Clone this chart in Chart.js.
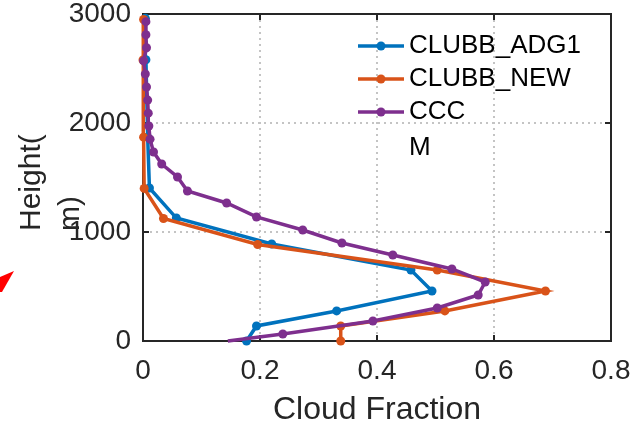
<!DOCTYPE html>
<html>
<head>
<meta charset="utf-8">
<script src="https://cdn.jsdelivr.net/npm/chart.js@4.4.0/dist/chart.umd.min.js"></script>
<style>
  html, body { margin: 0; padding: 0; background: #fff; }
</style>
</head>
<body>
<canvas id="cloudChart" width="636" height="426"></canvas>
<script>
const seriesNames = ['CLUBB_ADG1', 'CLUBB_NEW', 'CCCM'];
const seriesColors = ['#0072BD', '#D95319', '#7E2F8E'];

// CLUBB_ADG1
const adg1Height = [0, 138, 276, 459, 651, 890, 1128, 1404, 1870, 2580, 2960];
const adg1Frac = [0.177, 0.194, 0.331, 0.494, 0.458, 0.220, 0.057, 0.011, 0.008, 0.005, 0.004];

// CLUBB_NEW
const newHeight = [0, 138, 276, 459, 651, 885, 1124, 1400, 1870, 2578, 2950];
const newFrac = [0.338, 0.338, 0.516, 0.688, 0.503, 0.196, 0.035, 0.002, 0.001, 0.000, 0.001];

// CCCM (first point is where the line leaves the axes)
const cccmHeight = [0, 64, 183, 303, 422, 541, 661, 789, 899, 1018, 1138, 1266, 1376, 1505, 1624, 1734,
  1852, 1972, 2090, 2210, 2330, 2450, 2570, 2690, 2810, 2930];
const cccmFrac = [0.145, 0.239, 0.393, 0.503, 0.573, 0.585, 0.528, 0.427, 0.340, 0.273, 0.194, 0.143, 0.076,
  0.059, 0.032, 0.018, 0.012, 0.010, 0.009, 0.008, 0.006, 0.004, 0.001, 0.006, 0.005, 0.005];

const xTicks = [0, 0.2, 0.4, 0.6, 0.8];
const yTicks = [0, 1000, 2000, 3000];

const axisColor = '#262626';
const fontFamily = '"Liberation Sans", Arial, sans-serif';

function makeSet(i, fracs, heights, order) {
  return {
    label: seriesNames[i],
    data: fracs.map((v, k) => ({ x: v, y: heights[k] })),
    showLine: true,
    borderColor: seriesColors[i],
    backgroundColor: seriesColors[i],
    borderWidth: 3.5,
    pointRadius: i === 2 ? fracs.map((v, k) => (k === 0 ? 0 : 4.5)) : 4.5,
    pointHoverRadius: 4.5,
    pointBorderWidth: 0,
    order: order,
    clip: false
  };
}

function noPad(s) {
  s.paddingLeft = 0;
  s.paddingRight = 0;
  s.paddingTop = 0;
  s.paddingBottom = 0;
}

// box lines on top/right plus inward tick marks
const framePlugin = {
  id: 'frame',
  beforeDatasetsDraw(chart) {
    const { ctx, chartArea: a, scales } = chart;
    ctx.save();
    ctx.strokeStyle = axisColor;
    ctx.lineWidth = 2;
    ctx.beginPath();
    ctx.moveTo(a.left, a.top);
    ctx.lineTo(a.right, a.top);
    ctx.lineTo(a.right, a.bottom);
    ctx.stroke();
    const t = 6;
    ctx.beginPath();
    xTicks.forEach(v => {
      const px = Math.round(scales.x.getPixelForValue(v));
      ctx.moveTo(px, a.bottom); ctx.lineTo(px, a.bottom - t);
      ctx.moveTo(px, a.top); ctx.lineTo(px, a.top + t);
    });
    yTicks.forEach(v => {
      const py = Math.round(scales.y.getPixelForValue(v));
      ctx.moveTo(a.left, py); ctx.lineTo(a.left + t, py);
      ctx.moveTo(a.right, py); ctx.lineTo(a.right - t, py);
    });
    ctx.stroke();
    ctx.restore();
  },
  afterDraw(chart) {
    const { ctx } = chart;
    ctx.save();
    // y axis title, wrapped in two lines
    ctx.fillStyle = axisColor;
    ctx.font = '30px ' + fontFamily;
    ctx.textAlign = 'left';
    ctx.textBaseline = 'alphabetic';
    ctx.translate(0, 231);
    ctx.rotate(-Math.PI / 2);
    ctx.fillText('Height(', 0, 40);
    ctx.fillText('m)', 0, 79);
    ctx.restore();

    // legend
    ctx.save();
    const rows = [46, 79, 112];
    ctx.font = '26px ' + fontFamily;
    ctx.textBaseline = 'middle';
    ctx.textAlign = 'left';
    chart.data.datasets.forEach((ds, i) => {
      const y = rows[i];
      ctx.strokeStyle = ds.borderColor;
      ctx.lineWidth = 3.5;
      ctx.beginPath();
      ctx.moveTo(358, y); ctx.lineTo(404, y);
      ctx.stroke();
      ctx.fillStyle = ds.borderColor;
      ctx.beginPath();
      ctx.arc(381, y, 4.5, 0, Math.PI * 2);
      ctx.fill();
      ctx.fillStyle = '#000';
      const name = ds.label === 'CCCM' ? 'CCC' : ds.label;
      ctx.fillText(name, 409, y);
      if (ds.label === 'CCCM') ctx.fillText('M', 409, 148);
    });
    ctx.restore();

    // red arrow tip at the left edge
    ctx.save();
    ctx.fillStyle = '#ff0000';
    ctx.beginPath();
    ctx.moveTo(0, 277);
    ctx.lineTo(14, 271);
    ctx.lineTo(2, 292);
    ctx.lineTo(0, 292);
    ctx.closePath();
    ctx.fill();
    ctx.restore();
  }
};

const ctx = document.getElementById('cloudChart').getContext('2d');
const chart = new Chart(ctx, {
  type: 'scatter',
  data: {
    datasets: [
      makeSet(0, adg1Frac, adg1Height, 2),
      makeSet(1, newFrac, newHeight, 1),
      makeSet(2, cccmFrac, cccmHeight, 0)
    ]
  },
  options: {
    responsive: false,
    animation: false,
    devicePixelRatio: 1,
    layout: { padding: { left: 0, right: 25, top: 14, bottom: 0 } },
    plugins: {
      legend: { display: false },
      tooltip: { enabled: false }
    },
    scales: {
      x: {
        type: 'linear',
        min: 0,
        max: 0.8,
        afterBuildTicks: s => { s.ticks = xTicks.map(v => ({ value: v })); },
        afterFit: s => { s.height = 85; noPad(s); },
        grid: { color: '#c4c4c4', lineWidth: 2, drawTicks: false },
        border: { display: true, color: axisColor, width: 2, dash: [2, 4] },
        ticks: {
          color: axisColor,
          padding: 13,
          maxRotation: 0,
          font: { family: fontFamily, size: 28 },
          callback: v => String(v)
        },
        title: {
          display: true,
          text: 'Cloud Fraction',
          color: axisColor,
          padding: 0,
          font: { family: fontFamily, size: 32, lineHeight: 1 }
        }
      },
      y: {
        type: 'linear',
        min: 0,
        max: 3000,
        afterBuildTicks: s => { s.ticks = yTicks.map(v => ({ value: v })); },
        afterFit: s => { s.width = 143; noPad(s); },
        grid: { color: '#c4c4c4', lineWidth: 2, drawTicks: false },
        border: { display: true, color: axisColor, width: 2, dash: [2, 4] },
        ticks: {
          color: axisColor,
          padding: 12,
          font: { family: fontFamily, size: 28 },
          callback: v => String(v)
        }
      }
    }
  },
  plugins: [framePlugin]
});
</script>
</body>
</html>
